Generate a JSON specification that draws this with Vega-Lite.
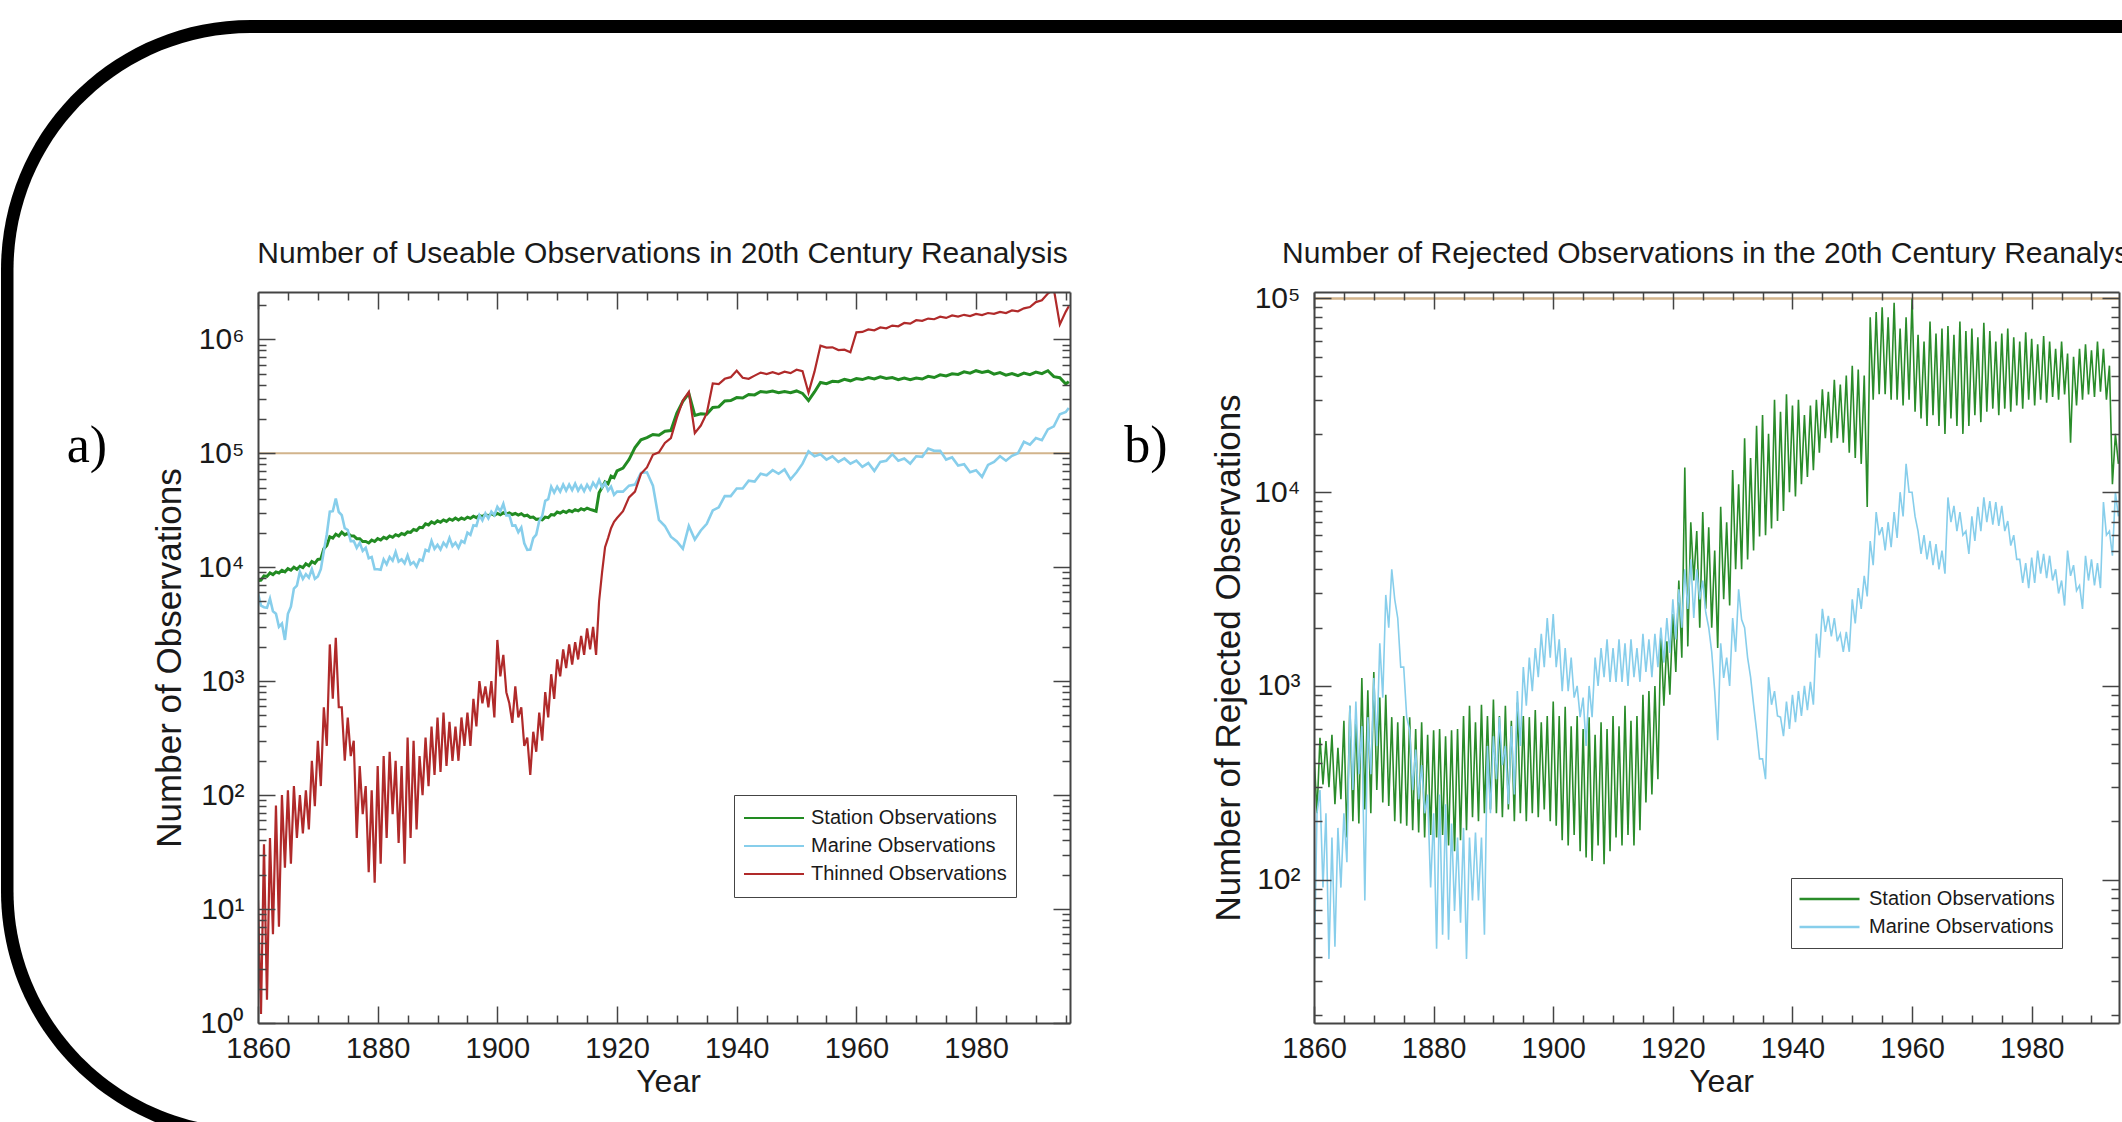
{
 "$schema": "https://vega.github.io/schema/vega-lite/v6.json",
 "padding": {"left": 0, "top": 19, "right": 0, "bottom": 0},
 "background": "white",
 "bounds": "flush",
 "spacing": 244,
 "resolve": {"scale": {"color": "independent"}},
 "config": {
  "view": {"stroke": null},
  "font": "Liberation Sans",
  "axis": {"grid": false, "domainColor": "#444", "domainWidth": 2, "tickColor": "#444", "tickWidth": 1.5, "labelColor": "#1a1a1a", "titleColor": "#1a1a1a", "titleFontWeight": "normal", "labelFont": "Liberation Sans", "titleFont": "Liberation Sans", "labelOverlap": false, "labelFlush": false, "labelBound": false},
  "legend": {"zindex": 1, "labelFont": "Liberation Sans", "labelColor": "#1a1a1a"}
 },
 "datasets": {
  "A": [
{"t":1860,"S":7600,"M":5900,"T":12},{"t":1860.5,"S":7700,"M":4600,"T":1.2},
{"t":1861,"S":8400,"M":4450,"T":37},{"t":1861.5,"S":8300,"M":4400,"T":1.6},
{"t":1862,"S":8900,"M":5300,"T":42},{"t":1862.5,"S":8600,"M":4100,"T":6},
{"t":1863,"S":9100,"M":3900,"T":81},{"t":1863.5,"S":8900,"M":3000,"T":7},
{"t":1864,"S":9400,"M":3200,"T":100},{"t":1864.5,"S":9100,"M":2300,"T":23},
{"t":1865,"S":9700,"M":3900,"T":110},{"t":1865.5,"S":9400,"M":4500,"T":25},
{"t":1866,"S":10000,"M":6500,"T":120},{"t":1866.5,"S":9600,"M":6900,"T":42},
{"t":1867,"S":10200,"M":9100,"T":100},{"t":1867.5,"S":9900,"M":7900,"T":46},
{"t":1868,"S":10700,"M":8700,"T":110},{"t":1868.5,"S":10300,"M":8100,"T":50},
{"t":1869,"S":11200,"M":9600,"T":200},{"t":1869.5,"S":10800,"M":7900,"T":80},
{"t":1870,"S":11700,"M":8300,"T":300},{"t":1870.5,"S":11800,"M":9600,"T":120},
{"t":1871,"S":14500,"M":13800,"T":590},{"t":1871.5,"S":15500,"M":19500,"T":270},
{"t":1872,"S":18500,"M":30700,"T":2100},{"t":1872.5,"S":18000,"M":31000,"T":700},
{"t":1873,"S":19500,"M":40000,"T":2400},{"t":1873.5,"S":18800,"M":30500,"T":590},
{"t":1874,"S":20300,"M":28600,"T":590},{"t":1874.5,"S":19200,"M":22000,"T":200},
{"t":1875,"S":19800,"M":21200,"T":480},{"t":1875.5,"S":18900,"M":16900,"T":220},
{"t":1876,"S":18800,"M":17000,"T":300},{"t":1876.5,"S":17800,"M":14800,"T":42},
{"t":1877,"S":17800,"M":16400,"T":180},{"t":1877.5,"S":16800,"M":13900,"T":68},
{"t":1878,"S":16800,"M":14800,"T":120},{"t":1878.5,"S":16300,"M":12000,"T":21},
{"t":1879,"S":17300,"M":12300,"T":110},{"t":1879.5,"S":16800,"M":9600,"T":17},
{"t":1880,"S":17800,"M":9600,"T":180},{"t":1880.5,"S":17300,"M":9500,"T":25},
{"t":1881,"S":18300,"M":11700,"T":220},{"t":1881.5,"S":17800,"M":10600,"T":42},
{"t":1882,"S":18800,"M":12300,"T":240},{"t":1882.5,"S":18300,"M":11400,"T":68},
{"t":1883,"S":19300,"M":13600,"T":200},{"t":1883.5,"S":18800,"M":11200,"T":38},
{"t":1884,"S":19800,"M":11700,"T":180},{"t":1884.5,"S":19300,"M":10800,"T":25},
{"t":1885,"S":20400,"M":12700,"T":320},{"t":1885.5,"S":20200,"M":10600,"T":42},
{"t":1886,"S":21400,"M":11100,"T":300},{"t":1886.5,"S":21000,"M":10100,"T":50},
{"t":1887,"S":22400,"M":11700,"T":220},{"t":1887.5,"S":22200,"M":11400,"T":100},
{"t":1888,"S":24000,"M":14200,"T":320},{"t":1888.5,"S":23500,"M":13800,"T":120},
{"t":1889,"S":25000,"M":17000,"T":400},{"t":1889.5,"S":24200,"M":14500,"T":150},
{"t":1890,"S":25500,"M":15700,"T":480},{"t":1890.5,"S":24800,"M":14300,"T":160},
{"t":1891,"S":26000,"M":16400,"T":530},{"t":1891.5,"S":25200,"M":15200,"T":180},
{"t":1892,"S":26500,"M":18000,"T":440},{"t":1892.5,"S":25800,"M":15300,"T":200},
{"t":1893,"S":27000,"M":16400,"T":400},{"t":1893.5,"S":26000,"M":14800,"T":200},
{"t":1894,"S":27000,"M":17000,"T":480},{"t":1894.5,"S":26300,"M":16400,"T":270},
{"t":1895,"S":27500,"M":20100,"T":530},{"t":1895.5,"S":26800,"M":19200,"T":270},
{"t":1896,"S":28000,"M":23300,"T":700},{"t":1896.5,"S":27200,"M":23000,"T":400},
{"t":1897,"S":28500,"M":28600,"T":1000},{"t":1897.5,"S":27800,"M":25800,"T":640},
{"t":1898,"S":29000,"M":29700,"T":900},{"t":1898.5,"S":28200,"M":26800,"T":590},
{"t":1899,"S":29500,"M":30700,"T":1000},{"t":1899.5,"S":28600,"M":28600,"T":480},
{"t":1900,"S":29600,"M":33900,"T":2300},{"t":1900.5,"S":28800,"M":31000,"T":1100},
{"t":1901,"S":30000,"M":36000,"T":1700},{"t":1901.5,"S":29200,"M":28500,"T":800},
{"t":1902,"S":30000,"M":28600,"T":640},{"t":1902.5,"S":29000,"M":23200,"T":430},
{"t":1903,"S":29600,"M":23300,"T":900},{"t":1903.5,"S":28700,"M":20300,"T":480},
{"t":1904,"S":29500,"M":22300,"T":590},{"t":1904.5,"S":28200,"M":16200,"T":270},
{"t":1905,"S":28600,"M":14200,"T":320},{"t":1905.5,"S":27300,"M":14300,"T":150},
{"t":1906,"S":27500,"M":18000,"T":360},{"t":1906.5,"S":26300,"M":19300,"T":240},
{"t":1907,"S":26500,"M":25400,"T":530},{"t":1907.5,"S":26000,"M":28200,"T":300},
{"t":1908,"S":27500,"M":38200,"T":800},{"t":1908.5,"S":27200,"M":39500,"T":480},
{"t":1909,"S":29000,"M":50900,"T":1150},{"t":1909.5,"S":28700,"M":45100,"T":700},
{"t":1910,"S":30500,"M":50900,"T":1550},{"t":1910.5,"S":29800,"M":46100,"T":1100},
{"t":1911,"S":31000,"M":53000,"T":1900},{"t":1911.5,"S":30200,"M":47000,"T":1300},
{"t":1912,"S":31500,"M":53000,"T":2100},{"t":1912.5,"S":30700,"M":47500,"T":1400},
{"t":1913,"S":32000,"M":54100,"T":2200},{"t":1913.5,"S":31200,"M":47000,"T":1550},
{"t":1914,"S":32600,"M":51900,"T":2500},{"t":1914.5,"S":31700,"M":46500,"T":1700},
{"t":1915,"S":33000,"M":53000,"T":2900},{"t":1915.5,"S":32200,"M":47900,"T":1900},
{"t":1916,"S":31600,"M":55100,"T":3000},{"t":1916.5,"S":31000,"M":50300,"T":1700},
{"t":1917,"S":45000,"M":58300,"T":5000},{"t":1917.5,"S":50000,"M":50300,"T":9000},
{"t":1918,"S":56000,"M":55100,"T":15000},{"t":1918.5,"S":54000,"M":47000,"T":18000},
{"t":1919,"S":63000,"M":50900,"T":22000},{"t":1919.5,"S":61000,"M":43200,"T":25000},
{"t":1920,"S":70000,"M":46000,"T":27000},{"t":1921,"S":74000,"M":46000,"T":31000},
{"t":1922,"S":88000,"M":52000,"T":41000},{"t":1923,"S":112000,"M":53000,"T":46000},
{"t":1924,"S":131000,"M":67000,"T":66000},{"t":1925,"S":137000,"M":68000,"T":75000},
{"t":1926,"S":146000,"M":52000,"T":97000},{"t":1927,"S":144000,"M":26000,"T":102000},
{"t":1928,"S":156000,"M":23000,"T":123000},{"t":1929,"S":158000,"M":18500,"T":136000},
{"t":1930,"S":225000,"M":16800,"T":205000},{"t":1931,"S":285000,"M":14500,"T":290000},
{"t":1932,"S":335000,"M":23000,"T":345000},{"t":1933,"S":215000,"M":17500,"T":150000},
{"t":1934,"S":222000,"M":21000,"T":175000},{"t":1935,"S":220000,"M":24000,"T":225000},
{"t":1936,"S":252000,"M":31500,"T":410000},{"t":1937,"S":255000,"M":33500,"T":405000},
{"t":1938,"S":288000,"M":42000,"T":450000},{"t":1939,"S":290000,"M":42000,"T":465000},
{"t":1940,"S":308000,"M":49000,"T":530000},{"t":1941,"S":305000,"M":49000,"T":460000},
{"t":1942,"S":328000,"M":57500,"T":450000},{"t":1943,"S":325000,"M":56500,"T":480000},
{"t":1944,"S":348000,"M":66000,"T":510000},{"t":1945,"S":343000,"M":64000,"T":495000},
{"t":1946,"S":352000,"M":71000,"T":515000},{"t":1947,"S":340000,"M":66000,"T":495000},
{"t":1948,"S":348000,"M":72000,"T":520000},{"t":1949,"S":340000,"M":59000,"T":505000},
{"t":1950,"S":352000,"M":68000,"T":540000},{"t":1951,"S":335000,"M":81000,"T":525000},
{"t":1952,"S":290000,"M":104000,"T":340000},{"t":1953,"S":345000,"M":94000,"T":520000},
{"t":1954,"S":418000,"M":98000,"T":880000},{"t":1955,"S":408000,"M":88000,"T":845000},
{"t":1956,"S":428000,"M":94000,"T":850000},{"t":1957,"S":425000,"M":84000,"T":805000},
{"t":1958,"S":445000,"M":90000,"T":810000},{"t":1959,"S":432000,"M":81000,"T":770000},
{"t":1960,"S":452000,"M":86000,"T":1150000},{"t":1961,"S":443000,"M":76000,"T":1160000},
{"t":1962,"S":462000,"M":82000,"T":1220000},{"t":1963,"S":448000,"M":70000,"T":1200000},
{"t":1964,"S":468000,"M":84000,"T":1270000},{"t":1965,"S":453000,"M":86000,"T":1250000},
{"t":1966,"S":462000,"M":98000,"T":1320000},{"t":1967,"S":443000,"M":86000,"T":1300000},
{"t":1968,"S":458000,"M":90000,"T":1390000},{"t":1969,"S":443000,"M":81000,"T":1370000},
{"t":1970,"S":458000,"M":94000,"T":1470000},{"t":1971,"S":448000,"M":93000,"T":1450000},
{"t":1972,"S":473000,"M":110000,"T":1520000},{"t":1973,"S":462000,"M":105000,"T":1500000},
{"t":1974,"S":488000,"M":105000,"T":1580000},{"t":1975,"S":476000,"M":88000,"T":1540000},
{"t":1976,"S":498000,"M":92000,"T":1620000},{"t":1977,"S":492000,"M":78000,"T":1580000},
{"t":1978,"S":518000,"M":80000,"T":1640000},{"t":1979,"S":505000,"M":68000,"T":1600000},
{"t":1980,"S":530000,"M":71000,"T":1670000},{"t":1981,"S":512000,"M":62000,"T":1630000},
{"t":1982,"S":525000,"M":79000,"T":1700000},{"t":1983,"S":495000,"M":84000,"T":1670000},
{"t":1984,"S":510000,"M":94000,"T":1740000},{"t":1985,"S":485000,"M":86000,"T":1700000},
{"t":1986,"S":500000,"M":95000,"T":1790000},{"t":1987,"S":480000,"M":100000,"T":1760000},
{"t":1988,"S":505000,"M":126000,"T":1870000},{"t":1989,"S":490000,"M":119000,"T":1920000},
{"t":1990,"S":515000,"M":136000,"T":2120000},{"t":1991,"S":500000,"M":130000,"T":2200000},
{"t":1992,"S":530000,"M":162000,"T":2520000},{"t":1993,"S":470000,"M":172000,"T":2750000},
{"t":1994,"S":460000,"M":220000,"T":1350000},{"t":1995,"S":405000,"M":230000,"T":1750000},
{"t":1995.5,"S":425000,"M":250000,"T":1950000}
  ],
  "B": [
{"t":1860,"S":450,"M":30},{"t":1860.5,"S":220,"M":220},{"t":1861,"S":540,"M":290},{"t":1861.5,"S":310,"M":91},
{"t":1862,"S":520,"M":220},{"t":1862.5,"S":300,"M":39},{"t":1863,"S":560,"M":165},{"t":1863.5,"S":245,"M":45},
{"t":1864,"S":480,"M":185},{"t":1864.5,"S":260,"M":91},{"t":1865,"S":660,"M":220},{"t":1865.5,"S":165,"M":123},
{"t":1866,"S":790,"M":790},{"t":1866.5,"S":200,"M":290},{"t":1867,"S":700,"M":830},{"t":1867.5,"S":195,"M":350},
{"t":1868,"S":1100,"M":620},{"t":1868.5,"S":230,"M":78},{"t":1869,"S":950,"M":690},{"t":1869.5,"S":220,"M":350},
{"t":1870,"S":1180,"M":1100},{"t":1870.5,"S":290,"M":490},{"t":1871,"S":870,"M":1660},{"t":1871.5,"S":250,"M":870},
{"t":1872,"S":900,"M":2950},{"t":1872.5,"S":240,"M":2000},{"t":1873,"S":690,"M":4000},{"t":1873.5,"S":200,"M":2800},
{"t":1874,"S":650,"M":2240},{"t":1874.5,"S":195,"M":1250},{"t":1875,"S":700,"M":1250},{"t":1875.5,"S":190,"M":690},
{"t":1876,"S":690,"M":590},{"t":1876.5,"S":180,"M":290},{"t":1877,"S":600,"M":470},{"t":1877.5,"S":175,"M":260},
{"t":1878,"S":650,"M":390},{"t":1878.5,"S":165,"M":220},{"t":1879,"S":560,"M":275},{"t":1879.5,"S":170,"M":91},
{"t":1880,"S":590,"M":220},{"t":1880.5,"S":165,"M":44},{"t":1881,"S":600,"M":275},{"t":1881.5,"S":170,"M":52},
{"t":1882,"S":550,"M":245},{"t":1882.5,"S":150,"M":49},{"t":1883,"S":590,"M":195},{"t":1883.5,"S":140,"M":69},
{"t":1884,"S":600,"M":165},{"t":1884.5,"S":160,"M":60},{"t":1885,"S":700,"M":185},{"t":1885.5,"S":180,"M":39},
{"t":1886,"S":790,"M":165},{"t":1886.5,"S":210,"M":78},{"t":1887,"S":650,"M":175},{"t":1887.5,"S":200,"M":78},
{"t":1888,"S":800,"M":165},{"t":1888.5,"S":220,"M":52},{"t":1889,"S":700,"M":490},{"t":1889.5,"S":230,"M":220},
{"t":1890,"S":850,"M":550},{"t":1890.5,"S":220,"M":330},{"t":1891,"S":700,"M":690},{"t":1891.5,"S":210,"M":390},
{"t":1892,"S":790,"M":490},{"t":1892.5,"S":230,"M":245},{"t":1893,"S":660,"M":620},{"t":1893.5,"S":200,"M":275},
{"t":1894,"S":820,"M":940},{"t":1894.5,"S":220,"M":490},{"t":1895,"S":700,"M":1250},{"t":1895.5,"S":200,"M":790},
{"t":1896,"S":690,"M":1400},{"t":1896.5,"S":220,"M":940},{"t":1897,"S":750,"M":1570},{"t":1897.5,"S":210,"M":1110},
{"t":1898,"S":650,"M":1860},{"t":1898.5,"S":230,"M":1250},{"t":1899,"S":700,"M":2240},{"t":1899.5,"S":200,"M":1400},
{"t":1900,"S":830,"M":2350},{"t":1900.5,"S":190,"M":1250},{"t":1901,"S":700,"M":1740},{"t":1901.5,"S":160,"M":940},
{"t":1902,"S":780,"M":1570},{"t":1902.5,"S":150,"M":940},{"t":1903,"S":620,"M":1400},{"t":1903.5,"S":170,"M":870},
{"t":1904,"S":700,"M":1000},{"t":1904.5,"S":140,"M":690},{"t":1905,"S":600,"M":870},{"t":1905.5,"S":130,"M":490},
{"t":1906,"S":690,"M":1000},{"t":1906.5,"S":125,"M":690},{"t":1907,"S":560,"M":1400},{"t":1907.5,"S":150,"M":1000},
{"t":1908,"S":650,"M":1570},{"t":1908.5,"S":120,"M":1110},{"t":1909,"S":600,"M":1740},{"t":1909.5,"S":140,"M":1050},
{"t":1910,"S":700,"M":1570},{"t":1910.5,"S":165,"M":1050},{"t":1911,"S":620,"M":1740},{"t":1911.5,"S":150,"M":1050},
{"t":1912,"S":790,"M":1660},{"t":1912.5,"S":170,"M":1000},{"t":1913,"S":660,"M":1740},{"t":1913.5,"S":150,"M":1110},
{"t":1914,"S":700,"M":1570},{"t":1914.5,"S":180,"M":1050},{"t":1915,"S":900,"M":1860},{"t":1915.5,"S":250,"M":1180},
{"t":1916,"S":940,"M":1740},{"t":1916.5,"S":275,"M":1110},{"t":1917,"S":1000,"M":1860},{"t":1917.5,"S":330,"M":1250},
{"t":1918,"S":1860,"M":2000},{"t":1918.5,"S":790,"M":1320},{"t":1919,"S":1700,"M":2240},{"t":1919.5,"S":900,"M":1480},
{"t":1920,"S":2350,"M":2800},{"t":1920.5,"S":1180,"M":1740},{"t":1921,"S":3500,"M":3150},{"t":1921.5,"S":1400,"M":2000},
{"t":1922,"S":13400,"M":4000},{"t":1922.5,"S":1600,"M":2500},{"t":1923,"S":7000,"M":4500},{"t":1923.5,"S":3500,"M":2240},
{"t":1924,"S":6300,"M":4000},{"t":1924.5,"S":2000,"M":2800},{"t":1925,"S":7900,"M":3500},{"t":1925.5,"S":2500,"M":2400},
{"t":1926,"S":6600,"M":2000},{"t":1926.5,"S":2000,"M":1500},{"t":1927,"S":5000,"M":940},{"t":1927.5,"S":1570,"M":525},
{"t":1928,"S":8400,"M":1660},{"t":1928.5,"S":2800,"M":1100},{"t":1929,"S":7000,"M":1400},{"t":1929.5,"S":2600,"M":1000},
{"t":1930,"S":13000,"M":2240},{"t":1930.5,"S":4000,"M":1500},{"t":1931,"S":11000,"M":3150},{"t":1931.5,"S":4000,"M":2200},
{"t":1932,"S":19000,"M":2000},{"t":1932.5,"S":4500,"M":1400},{"t":1933,"S":15000,"M":1110},{"t":1933.5,"S":5000,"M":800},
{"t":1934,"S":22000,"M":590},{"t":1934.5,"S":5900,"M":420},{"t":1935,"S":25000,"M":420},{"t":1935.5,"S":6000,"M":330},
{"t":1936,"S":20000,"M":1110},{"t":1936.5,"S":6500,"M":800},{"t":1937,"S":30000,"M":940},{"t":1937.5,"S":7100,"M":700},
{"t":1938,"S":26000,"M":690},{"t":1938.5,"S":8000,"M":550},{"t":1939,"S":32000,"M":830},{"t":1939.5,"S":10000,"M":600},
{"t":1940,"S":28000,"M":900},{"t":1940.5,"S":9500,"M":650},{"t":1941,"S":30000,"M":940},{"t":1941.5,"S":11000,"M":700},
{"t":1942,"S":25000,"M":1000},{"t":1942.5,"S":12000,"M":750},{"t":1943,"S":28000,"M":1050},{"t":1943.5,"S":13000,"M":800},
{"t":1944,"S":30000,"M":1860},{"t":1944.5,"S":16000,"M":1400},{"t":1945,"S":34000,"M":2500},{"t":1945.5,"S":19000,"M":1900},
{"t":1946,"S":33000,"M":2300},{"t":1946.5,"S":18000,"M":1800},{"t":1947,"S":38000,"M":2240},{"t":1947.5,"S":19000,"M":1700},
{"t":1948,"S":36000,"M":1860},{"t":1948.5,"S":18000,"M":1500},{"t":1949,"S":40000,"M":1900},{"t":1949.5,"S":16000,"M":1500},
{"t":1950,"S":45000,"M":2800},{"t":1950.5,"S":15000,"M":2100},{"t":1951,"S":43000,"M":3200},{"t":1951.5,"S":14000,"M":2500},
{"t":1952,"S":40000,"M":3700},{"t":1952.5,"S":8400,"M":2900},{"t":1953,"S":80000,"M":5600},{"t":1953.5,"S":30000,"M":4200},
{"t":1954,"S":85000,"M":7900},{"t":1954.5,"S":32000,"M":6000},{"t":1955,"S":90000,"M":6600},{"t":1955.5,"S":32000,"M":5000},
{"t":1956,"S":80000,"M":7000},{"t":1956.5,"S":30000,"M":5200},{"t":1957,"S":95000,"M":7900},{"t":1957.5,"S":30000,"M":5800},
{"t":1958,"S":70000,"M":10000},{"t":1958.5,"S":28000,"M":7500},{"t":1959,"S":80000,"M":14000},{"t":1959.5,"S":30000,"M":10000},
{"t":1960,"S":100000,"M":10000},{"t":1960.5,"S":26000,"M":7500},{"t":1961,"S":65000,"M":6300},{"t":1961.5,"S":24000,"M":4800},
{"t":1962,"S":60000,"M":6000},{"t":1962.5,"S":22000,"M":4500},{"t":1963,"S":76000,"M":5600},{"t":1963.5,"S":25000,"M":4200},
{"t":1964,"S":66000,"M":5400},{"t":1964.5,"S":22000,"M":4000},{"t":1965,"S":70000,"M":5000},{"t":1965.5,"S":20000,"M":3800},
{"t":1966,"S":72000,"M":9400},{"t":1966.5,"S":24000,"M":7000},{"t":1967,"S":65000,"M":8500},{"t":1967.5,"S":22000,"M":6300},
{"t":1968,"S":76000,"M":7900},{"t":1968.5,"S":20000,"M":6000},{"t":1969,"S":68000,"M":6300},{"t":1969.5,"S":22000,"M":4800},
{"t":1970,"S":70000,"M":7500},{"t":1970.5,"S":25000,"M":5600},{"t":1971,"S":63000,"M":8400},{"t":1971.5,"S":23000,"M":6300},
{"t":1972,"S":75000,"M":9400},{"t":1972.5,"S":26000,"M":7000},{"t":1973,"S":68000,"M":9000},{"t":1973.5,"S":27000,"M":6800},
{"t":1974,"S":60000,"M":8900},{"t":1974.5,"S":25000,"M":6700},{"t":1975,"S":66000,"M":8500},{"t":1975.5,"S":27000,"M":6300},
{"t":1976,"S":70000,"M":7100},{"t":1976.5,"S":26000,"M":5300},{"t":1977,"S":63000,"M":6000},{"t":1977.5,"S":28000,"M":4500},
{"t":1978,"S":60000,"M":4500},{"t":1978.5,"S":27000,"M":3400},{"t":1979,"S":67000,"M":4300},{"t":1979.5,"S":30000,"M":3200},
{"t":1980,"S":62000,"M":4600},{"t":1980.5,"S":28000,"M":3400},{"t":1981,"S":58000,"M":5000},{"t":1981.5,"S":30000,"M":3800},
{"t":1982,"S":64000,"M":4800},{"t":1982.5,"S":29000,"M":3600},{"t":1983,"S":60000,"M":4700},{"t":1983.5,"S":31000,"M":3500},
{"t":1984,"S":55000,"M":4000},{"t":1984.5,"S":30000,"M":3000},{"t":1985,"S":60000,"M":3500},{"t":1985.5,"S":32000,"M":2600},
{"t":1986,"S":52000,"M":5000},{"t":1986.5,"S":18000,"M":3700},{"t":1987,"S":50000,"M":4200},{"t":1987.5,"S":28000,"M":3100},
{"t":1988,"S":55000,"M":3300},{"t":1988.5,"S":30000,"M":2500},{"t":1989,"S":58000,"M":4700},{"t":1989.5,"S":32000,"M":3500},
{"t":1990,"S":54000,"M":4500},{"t":1990.5,"S":31000,"M":3300},{"t":1991,"S":60000,"M":4300},{"t":1991.5,"S":33000,"M":3200},
{"t":1992,"S":55000,"M":8900},{"t":1992.5,"S":30000,"M":6000},{"t":1993,"S":45000,"M":6300},{"t":1993.5,"S":11000,"M":4700},
{"t":1994,"S":20000,"M":10000},{"t":1994.5,"S":14000,"M":7500}
  ]
 },
 "hconcat": [
  {
   "width": 812, "height": 731,
   "data": {"name": "A"},
   "resolve": {"axis": {"x": "independent", "y": "independent"}},
   "layer": [
    {
     "data": {"values": [{}]},
     "mark": {"type": "rect", "color": "black", "cornerRadius": 250},
     "encoding": {
      "x": {"datum": 1817.05, "type": "quantitative", "scale": {"domain": [1860, 1995.7], "nice": false, "zero": false},
       "axis": {"orient": "top", "zindex": 2, "values": [1865,1870,1875,1885,1890,1895,1905,1910,1915,1925,1930,1935,1945,1950,1955,1965,1970,1975,1985,1990,1995], "tickSize": -8, "labels": false, "domain": false, "title": null}},
      "x2": {"datum": 2251.56},
      "y": {"datum": 633800000, "type": "quantitative", "scale": {"type": "log", "domain": [1, 2600000], "nice": false},
       "axis": {"orient": "right", "zindex": 2, "values": [2,3,4,5,6,7,8,9,20,30,40,50,60,70,80,90,200,300,400,500,600,700,800,900,2000,3000,4000,5000,6000,7000,8000,9000,20000,30000,40000,50000,60000,70000,80000,90000,200000,300000,400000,500000,600000,700000,800000,900000,2000000], "tickSize": -8, "labels": false, "domain": false, "title": null}},
      "y2": {"datum": 0.09214}
     }
    },
    {
     "data": {"values": [{}]},
     "mark": {"type": "rect", "color": "white", "cornerRadius": 237},
     "encoding": {
      "x": {"datum": 1819.14, "type": "quantitative", "scale": {"domain": [1860, 1995.7], "nice": false, "zero": false},
       "axis": {"orient": "bottom", "zindex": 2, "values": [1865,1870,1875,1885,1890,1895,1905,1910,1915,1925,1930,1935,1945,1950,1955,1965,1970,1975,1985,1990,1995], "tickSize": -8, "labels": false, "domain": false, "title": null}},
      "x2": {"datum": 2249.39},
      "y": {"datum": 487400000, "type": "quantitative", "scale": {"type": "log", "domain": [1, 2600000], "nice": false},
       "axis": {"orient": "left", "zindex": 2, "values": [2,3,4,5,6,7,8,9,20,30,40,50,60,70,80,90,200,300,400,500,600,700,800,900,2000,3000,4000,5000,6000,7000,8000,9000,20000,30000,40000,50000,60000,70000,80000,90000,200000,300000,400000,500000,600000,700000,800000,900000,2000000], "tickSize": -8, "labels": false, "domain": false, "title": null}},
      "y2": {"datum": 0.11984}
     }
    },
    {
     "data": {"values": [{}]},
     "mark": {"type": "rule", "color": "#d2b48c", "strokeWidth": 2},
     "encoding": {
      "x": {"datum": 1860, "type": "quantitative", "scale": {"domain": [1860, 1995.7], "nice": false, "zero": false},
       "axis": {"orient": "top", "zindex": 2, "values": [1860,1880,1900,1920,1940,1960,1980], "tickSize": -17,
        "labels": false, "title": "Number of Useable Observations in 20th Century Reanalysis", "titleFontSize": 30, "titleX": 404, "titleY": -30, "titleBaseline": "alphabetic", "titleAlign": "center"}},
      "x2": {"datum": 1995.7},
      "y": {"datum": 100000, "type": "quantitative", "scale": {"type": "log", "domain": [1, 2600000], "nice": false},
       "axis": {"orient": "right", "zindex": 2, "values": [1,10,100,1000,10000,100000,1000000], "tickSize": -17, "labels": false, "title": null}}
     }
    },
    {
     "transform": [{"fold": ["S", "M", "T"], "as": ["k", "v"]}],
     "mark": {"type": "line", "clip": true},
     "encoding": {
      "x": {"field": "t", "type": "quantitative", "scale": {"domain": [1860, 1995.7], "nice": false, "zero": false},
       "axis": {"orient": "bottom", "zindex": 2, "values": [1860,1880,1900,1920,1940,1960,1980], "tickSize": -17, "format": "d", "labelFontSize": 29, "labelPadding": 28,
        "title": "Year", "titleFontSize": 32, "titleX": 410, "titleY": 43, "titleBaseline": "top", "titleAlign": "center"}},
      "y": {"field": "v", "type": "quantitative", "scale": {"type": "log", "domain": [1, 2600000], "nice": false},
       "axis": {"orient": "left", "zindex": 2, "values": [1,10,100,1000,10000,100000,1000000], "tickSize": -17,
        "labelExpr": "'10' + ['⁰','¹','²','³','⁴','⁵','⁶'][round(log(datum.value)/LN10)]",
        "labelFontSize": 30, "labelPadding": 31,
        "title": "Number of Observations", "titleFontSize": 35, "titleX": -78, "titleY": 365.5, "titleAngle": 270, "titleBaseline": "alphabetic", "titleAlign": "center"}},
      "color": {"field": "k", "type": "nominal", "scale": {"domain": ["S", "M", "T"], "range": ["#228b22", "#87ceeb", "#b02a2a"]},
       "legend": {"orient": "none", "legendX": 476, "legendY": 503, "title": null, "symbolType": "stroke", "symbolSize": 3600, "symbolStrokeWidth": 2,
        "clipHeight": 28, "rowPadding": 0, "padding": 9, "strokeColor": "#444", "fillColor": "white", "labelFontSize": 20, "labelOffset": 6, "labelLimit": 0,
        "labelExpr": "datum.label == 'S' ? 'Station Observations' : datum.label == 'M' ? 'Marine Observations' : 'Thinned Observations'"}},
      "strokeWidth": {"field": "k", "type": "nominal", "scale": {"domain": ["S", "M", "T"], "range": [3, 2.2, 2]}, "legend": null}
     }
    },
    {
     "data": {"values": [{}]},
     "mark": {"type": "text", "text": "a)", "font": "Liberation Serif", "fontSize": 52, "align": "center", "baseline": "middle", "color": "black"},
     "encoding": {
      "x": {"datum": 1831.42, "type": "quantitative", "scale": {"domain": [1860, 1995.7], "nice": false, "zero": false}, "axis": null},
      "y": {"datum": 115740, "type": "quantitative", "scale": {"type": "log", "domain": [1, 2600000], "nice": false}, "axis": null}
     }
    }
   ]
  },
  {
   "width": 805, "height": 731,
   "data": {"name": "B"},
   "resolve": {"axis": {"x": "independent", "y": "independent"}},
   "layer": [
    {
     "data": {"values": [{}]},
     "mark": {"type": "rule", "color": "#d2b48c", "strokeWidth": 2},
     "encoding": {
      "x": {"datum": 1860, "type": "quantitative", "scale": {"domain": [1860, 1994.6], "nice": false, "zero": false},
       "axis": {"orient": "top", "zindex": 2, "values": [1860,1880,1900,1920,1940,1960,1980], "tickSize": -17,
        "labels": false, "title": "Number of Rejected Observations in the 20th Century Reanalysis", "titleFontSize": 30, "titleX": 402, "titleY": -30, "titleBaseline": "alphabetic", "titleAlign": "center"}},
      "x2": {"datum": 1994.6},
      "y": {"datum": 100000, "type": "quantitative", "scale": {"type": "log", "domain": [18.2, 108000], "nice": false},
       "axis": {"orient": "right", "zindex": 2, "values": [100,1000,10000,100000], "tickSize": -17, "labels": false, "title": null}}
     }
    },
    {
     "data": {"values": [{}]},
     "mark": {"type": "rule", "color": "#d2b48c", "strokeWidth": 2},
     "encoding": {
      "x": {"datum": 1860, "type": "quantitative", "scale": {"domain": [1860, 1994.6], "nice": false, "zero": false},
       "axis": {"orient": "top", "zindex": 2, "values": [1865,1870,1875,1885,1890,1895,1905,1910,1915,1925,1930,1935,1945,1950,1955,1965,1970,1975,1985,1990], "tickSize": -8, "labels": false, "domain": false, "title": null}},
      "x2": {"datum": 1994.6},
      "y": {"datum": 100000, "type": "quantitative", "scale": {"type": "log", "domain": [18.2, 108000], "nice": false},
       "axis": {"orient": "right", "zindex": 2, "values": [20,30,40,50,60,70,80,90,200,300,400,500,600,700,800,900,2000,3000,4000,5000,6000,7000,8000,9000,20000,30000,40000,50000,60000,70000,80000,90000], "tickSize": -8, "labels": false, "domain": false, "title": null}}
     }
    },
    {
     "transform": [{"fold": ["S", "M"], "as": ["k", "v"]}],
     "mark": {"type": "line", "clip": true, "strokeWidth": 1.6},
     "encoding": {
      "x": {"field": "t", "type": "quantitative", "scale": {"domain": [1860, 1994.6], "nice": false, "zero": false},
       "axis": {"orient": "bottom", "zindex": 2, "values": [1860,1880,1900,1920,1940,1960,1980], "tickSize": -17, "format": "d", "labelFontSize": 29, "labelPadding": 28,
        "title": "Year", "titleFontSize": 32, "titleX": 407, "titleY": 43, "titleBaseline": "top", "titleAlign": "center"}},
      "y": {"field": "v", "type": "quantitative", "scale": {"type": "log", "domain": [18.2, 108000], "nice": false},
       "axis": {"orient": "left", "zindex": 2, "values": [100,1000,10000,100000], "tickSize": -17,
        "labelExpr": "'10' + ['⁰','¹','²','³','⁴','⁵','⁶'][round(log(datum.value)/LN10)]",
        "labelFontSize": 30, "labelPadding": 31,
        "title": "Number of Rejected Observations", "titleFontSize": 35, "titleX": -75, "titleY": 365.5, "titleAngle": 270, "titleBaseline": "alphabetic", "titleAlign": "center"}},
      "color": {"field": "k", "type": "nominal", "scale": {"domain": ["S", "M"], "range": ["#2a8c2a", "#87ceeb"]},
       "legend": {"orient": "none", "legendX": 477, "legendY": 586, "title": null, "symbolType": "stroke", "symbolSize": 3600, "symbolStrokeWidth": 2.5,
        "clipHeight": 28, "rowPadding": 0, "padding": 7, "strokeColor": "#444", "fillColor": "white", "labelFontSize": 20, "labelOffset": 8, "labelLimit": 0,
        "labelExpr": "datum.label == 'S' ? 'Station Observations' : 'Marine Observations'"}}
     }
    },
    {
     "data": {"values": [{}]},
     "mark": {"type": "text", "text": "b)", "font": "Liberation Serif", "fontSize": 52, "align": "center", "baseline": "middle", "color": "black"},
     "encoding": {
      "x": {"datum": 1831.91, "type": "quantitative", "scale": {"domain": [1860, 1994.6], "nice": false, "zero": false},
       "axis": {"orient": "bottom", "zindex": 2, "values": [1865,1870,1875,1885,1890,1895,1905,1910,1915,1925,1930,1935,1945,1950,1955,1965,1970,1975,1985,1990], "tickSize": -8, "labels": false, "domain": false, "title": null}},
      "y": {"datum": 17316, "type": "quantitative", "scale": {"type": "log", "domain": [18.2, 108000], "nice": false},
       "axis": {"orient": "left", "zindex": 2, "values": [20,30,40,50,60,70,80,90,200,300,400,500,600,700,800,900,2000,3000,4000,5000,6000,7000,8000,9000,20000,30000,40000,50000,60000,70000,80000,90000], "tickSize": -8, "labels": false, "domain": false, "title": null}}
     }
    }
   ]
  }
 ]
}
